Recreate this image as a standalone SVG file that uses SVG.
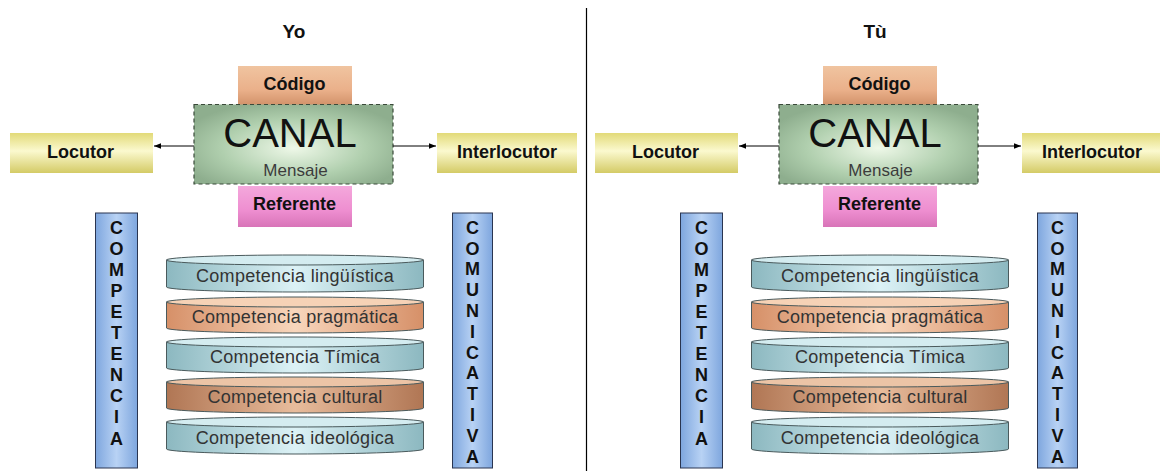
<svg xmlns="http://www.w3.org/2000/svg" width="1160" height="471" viewBox="0 0 1160 471">
<defs>
<linearGradient id="gY" x1="0" y1="0" x2="0" y2="1"><stop offset="0" stop-color="#e2da78"/><stop offset="0.45" stop-color="#fbf9cf"/><stop offset="1" stop-color="#d4cb66"/></linearGradient>
<linearGradient id="gC" x1="0" y1="0" x2="0" y2="1"><stop offset="0" stop-color="#f0c4a0"/><stop offset="0.6" stop-color="#eab08a"/><stop offset="1" stop-color="#d09068"/></linearGradient>
<linearGradient id="gR" x1="0" y1="0" x2="0" y2="1"><stop offset="0" stop-color="#f4a8dc"/><stop offset="0.6" stop-color="#ee8ed0"/><stop offset="1" stop-color="#d874b8"/></linearGradient>
<radialGradient id="gG" cx="0.5" cy="0.55" r="0.6"><stop offset="0" stop-color="#eef8e8"/><stop offset="0.6" stop-color="#b0cfae"/><stop offset="1" stop-color="#8eae8e"/></radialGradient>
<linearGradient id="gB" x1="0" y1="0" x2="1" y2="0"><stop offset="0" stop-color="#7ea6de"/><stop offset="0.5" stop-color="#b8d2f4"/><stop offset="1" stop-color="#7ea6de"/></linearGradient>
<linearGradient id="gT" x1="0" y1="0" x2="1" y2="0"><stop offset="0" stop-color="#8cb8c0"/><stop offset="0.5" stop-color="#dcf2f6"/><stop offset="1" stop-color="#8cb8c0"/></linearGradient>
<linearGradient id="gO" x1="0" y1="0" x2="1" y2="0"><stop offset="0" stop-color="#d69068"/><stop offset="0.5" stop-color="#f8d6bc"/><stop offset="1" stop-color="#d69068"/></linearGradient>
<linearGradient id="gW" x1="0" y1="0" x2="1" y2="0"><stop offset="0" stop-color="#b07654"/><stop offset="0.5" stop-color="#e8bc9c"/><stop offset="1" stop-color="#b07654"/></linearGradient>
<marker id="ah" viewBox="0 0 10 10" refX="10" refY="5" markerWidth="7" markerHeight="7" orient="auto-start-reverse" markerUnits="userSpaceOnUse"><path d="M0,1 L10,5 L0,9 z" fill="#000"/></marker>
<g id="panel">
  <g id="codigo"><rect x="238" y="66" width="114" height="40" fill="url(#gC)"/><text class="b" x="294.5" y="90">Código</text></g>
  <g id="referente"><rect x="238" y="186" width="114" height="41" fill="url(#gR)"/><text class="b" x="294.5" y="210">Referente</text></g>
  <g id="canal"><rect x="194" y="104.5" width="199" height="79.5" fill="url(#gG)" stroke="#3a4a3a" stroke-width="1.2" stroke-dasharray="4,3"/><text class="big" x="290" y="147">CANAL</text><text class="men" x="295.5" y="176">Mensaje</text></g>
  <g id="locutor"><rect x="10" y="133" width="143" height="40" fill="url(#gY)"/><text class="b" x="80.5" y="158">Locutor</text></g>
  <g id="interlocutor"><rect x="437" y="133" width="140" height="40" fill="url(#gY)"/><text class="b" x="507" y="158">Interlocutor</text></g>
  <g class="conn"><line x1="194" y1="146" x2="154" y2="146" marker-end="url(#ah)"/><line x1="393" y1="146" x2="436" y2="146" marker-end="url(#ah)"/></g>
  <g id="bar1"><rect x="95.5" y="213" width="42" height="255" fill="url(#gB)" stroke="#2a3550" stroke-width="1"/>
    <text class="v" x="116.5"><tspan x="116.5" y="234">C</tspan><tspan x="116.5" y="255">O</tspan><tspan x="116.5" y="276">M</tspan><tspan x="116.5" y="297">P</tspan><tspan x="116.5" y="318">E</tspan><tspan x="116.5" y="339">T</tspan><tspan x="116.5" y="360">E</tspan><tspan x="116.5" y="381">N</tspan><tspan x="116.5" y="402">C</tspan><tspan x="116.5" y="423">I</tspan><tspan x="116.5" y="445">A</tspan></text></g>
  <g id="bar2"><rect x="452.5" y="213" width="40" height="255" fill="url(#gB)" stroke="#2a3550" stroke-width="1"/>
    <text class="v" x="472.5"><tspan x="472.5" y="234">C</tspan><tspan x="472.5" y="255">O</tspan><tspan x="472.5" y="275">M</tspan><tspan x="472.5" y="296">U</tspan><tspan x="472.5" y="317">N</tspan><tspan x="472.5" y="338">I</tspan><tspan x="472.5" y="359">C</tspan><tspan x="472.5" y="379">A</tspan><tspan x="472.5" y="400">T</tspan><tspan x="472.5" y="421">I</tspan><tspan x="472.5" y="442">V</tspan><tspan x="472.5" y="463">A</tspan></text></g>
  <g id="cyl1"><path d="M166.5,260 v27 a128.5,5 0 0 0 257,0 v-27 z" fill="url(#gT)" class="cs"/><ellipse cx="295" cy="260" rx="128.5" ry="5" fill="#d4ecf0" class="cs"/><text class="c" x="295" y="282">Competencia lingüística</text></g>
  <g id="cyl2"><path d="M166.5,302 v26 a128.5,5 0 0 0 257,0 v-26 z" fill="url(#gO)" class="cs"/><ellipse cx="295" cy="302" rx="128.5" ry="5" fill="#f6d2b6" class="cs"/><text class="c" x="295" y="323">Competencia pragmática</text></g>
  <g id="cyl3"><path d="M166.5,342 v26 a128.5,5 0 0 0 257,0 v-26 z" fill="url(#gT)" class="cs"/><ellipse cx="295" cy="342" rx="128.5" ry="5" fill="#d4ecf0" class="cs"/><text class="c" x="295" y="363">Competencia Tímica</text></g>
  <g id="cyl4"><path d="M166.5,382 v26 a128.5,5 0 0 0 257,0 v-26 z" fill="url(#gW)" class="cs"/><ellipse cx="295" cy="382" rx="128.5" ry="5" fill="#ecc4a6" class="cs"/><text class="c" x="295" y="403">Competencia cultural</text></g>
  <g id="cyl5"><path d="M166.5,422 v27 a128.5,5 0 0 0 257,0 v-27 z" fill="url(#gT)" class="cs"/><ellipse cx="295" cy="422" rx="128.5" ry="5" fill="#d4ecf0" class="cs"/><text class="c" x="295" y="444">Competencia ideológica</text></g>
</g>
</defs>
<style>
text{font-family:"Liberation Sans",Arial,sans-serif;text-anchor:middle}
.b{font-weight:bold;font-size:18px;fill:#111}
.t{font-weight:bold;font-size:19px;fill:#111}
.big{font-size:40px;fill:#111}
.men{font-size:17px;fill:#3c3c3c}
.v{font-weight:bold;font-size:18px;fill:#111}
.c{font-size:18px;fill:#333;letter-spacing:0.3px}
.cs{stroke:#4a5a5c;stroke-width:1}
.conn line{stroke:#000;stroke-width:1}
</style>
<rect width="1160" height="471" fill="#fff"/>
<g id="yo-panel"><text class="t" x="294" y="38">Yo</text><use href="#panel"/></g>
<g id="tu-panel"><text class="t" x="875" y="38">Tù</text><use href="#panel" transform="translate(585,0)"/></g>
<g id="divider"><line x1="586.5" y1="8" x2="586.5" y2="471" stroke="#000" stroke-width="1.2"/></g>
</svg>
